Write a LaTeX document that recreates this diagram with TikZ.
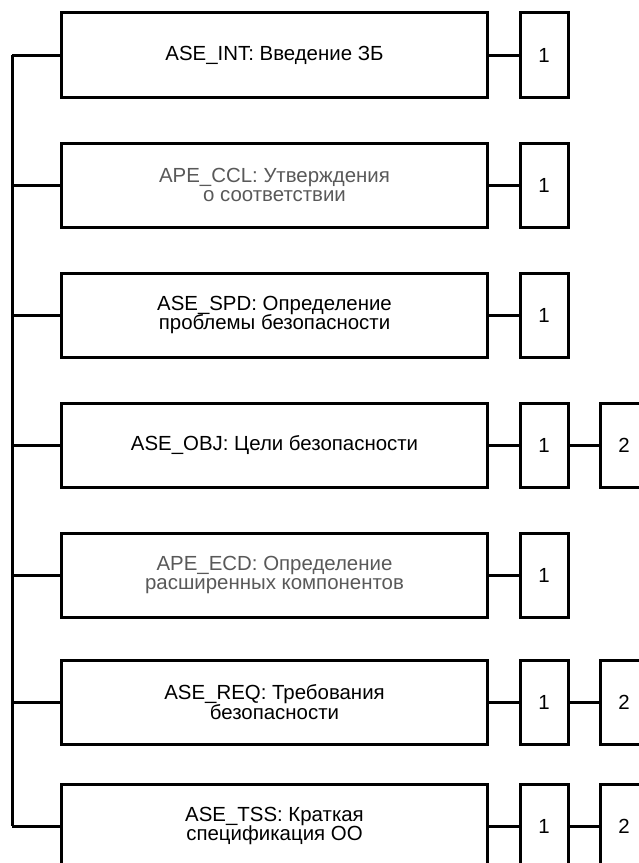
\documentclass[tikz,border=0pt]{standalone}
\usepackage{fontspec}
\setmainfont{Liberation Sans}
\usetikzlibrary{positioning}
\tikzset{
  family/.style={draw=black,line width=3bp,minimum width=425bp,minimum height=84bp,
    inner sep=0pt,align=center,font=\fontsize{20.5}{20}\selectfont},
  apefamily/.style={family,text=black!65},
  level/.style={draw=black,line width=3bp,minimum width=48bp,minimum height=84bp,
    inner sep=0pt,font=\fontsize{20.5}{20}\selectfont},
  link/.style={line width=3bp}
}

\begin{document}
\begin{tikzpicture}[x=1bp,y=-1bp]
\useasboundingbox (0,0) rectangle (639,863);
\clip (0,0) rectangle (639,863);
%
\node (int) [family] at (274.5,55) {ASE\_INT: Введение ЗБ};
\node (ccl) [apefamily] at (274.5,185) {APE\_CCL: Утверждения\\о соответствии};
\node (spd) [family] at (274.5,315) {ASE\_SPD: Определение\\проблемы безопасности};
\node (obj) [family] at (274.5,445) {ASE\_OBJ: Цели безопасности};
\node (ecd) [apefamily] at (274.5,575) {APE\_ECD: Определение\\расширенных компонентов};
\node (req) [family] at (274.5,702) {ASE\_REQ: Требования\\безопасности};
\node (tss) [family] at (274.5,826) {ASE\_TSS: Краткая\\спецификация ОО};
%
\node (int1) [level,right=30bp of int] {1};
\node (ccl1) [level,right=30bp of ccl] {1};
\node (spd1) [level,right=30bp of spd] {1};
\node (obj1) [level,right=30bp of obj] {1};
\node (ecd1) [level,right=30bp of ecd] {1};
\node (req1) [level,right=30bp of req] {1};
\node (tss1) [level,right=30bp of tss] {1};
\node (obj2) [level,right=29bp of obj1] {2};
\node (req2) [level,right=29bp of req1] {2};
\node (tss2) [level,right=29bp of tss1] {2};
%
\coordinate (trunk) at (12,55);
\coordinate (root) at (12,826);
\draw[link] (trunk) -- (root);
\draw[link] (int.west) -- (int.west -| trunk);
\draw[link] (ccl.west) -- (ccl.west -| trunk);
\draw[link] (spd.west) -- (spd.west -| trunk);
\draw[link] (obj.west) -- (obj.west -| trunk);
\draw[link] (ecd.west) -- (ecd.west -| trunk);
\draw[link] (req.west) -- (req.west -| trunk);
\draw[link] (tss.west) -- (tss.west -| trunk);
%
\draw[link] (int) -- (int1);
\draw[link] (ccl) -- (ccl1);
\draw[link] (spd) -- (spd1);
\draw[link] (obj) -- (obj1);
\draw[link] (ecd) -- (ecd1);
\draw[link] (req) -- (req1);
\draw[link] (tss) -- (tss1);
\draw[link] (obj1) -- (obj2);
\draw[link] (req1) -- (req2);
\draw[link] (tss1) -- (tss2);
\end{tikzpicture}
\end{document}
